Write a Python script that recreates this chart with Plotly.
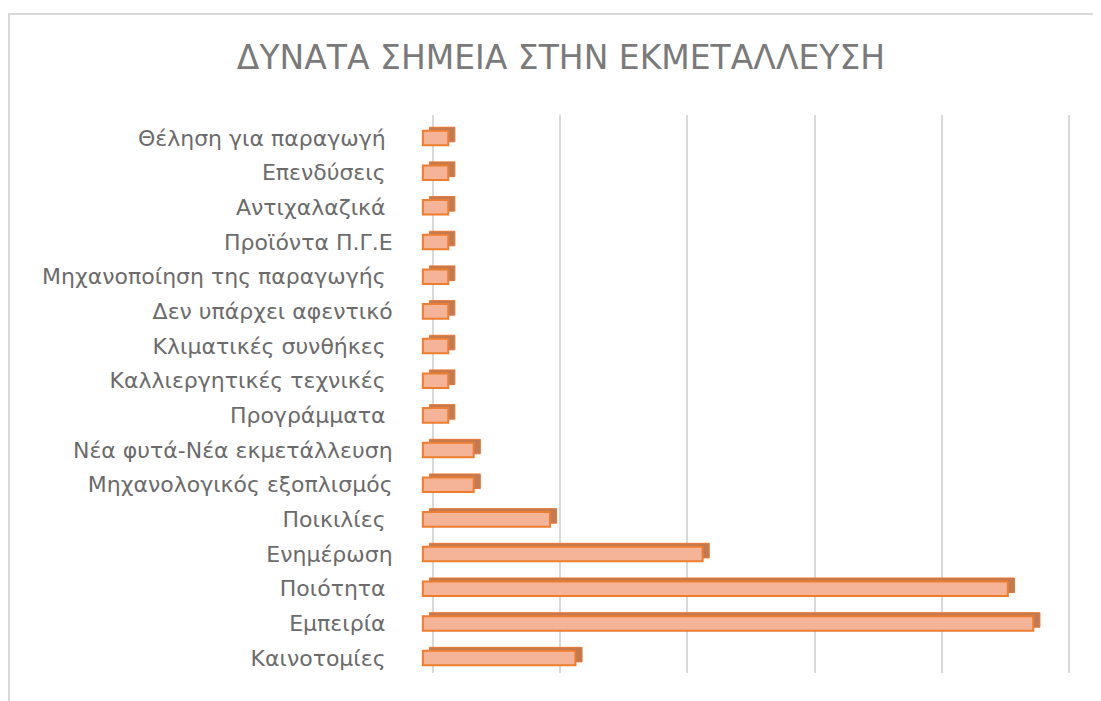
import plotly.graph_objects as go

categories = [
    "Θέληση για παραγωγή ",
    "Επενδύσεις ",
    "Αντιχαλαζικά ",
    "Προϊόντα Π.Γ.Ε",
    "Μηχανοποίηση της παραγωγής ",
    "Δεν υπάρχει αφεντικό",
    "Κλιματικές συνθήκες ",
    "Καλλιεργητικές τεχνικές ",
    "Προγράμματα ",
    "Νέα φυτά-Νέα εκμετάλλευση",
    "Μηχανολογικός εξοπλισμός",
    "Ποικιλίες ",
    "Ενημέρωση",
    "Ποιότητα ",
    "Εμπειρία ",
    "Καινοτομίες ",
]
values = [1, 1, 1, 1, 1, 1, 1, 1, 1, 2, 2, 5, 11, 23, 24, 6]
title_text = "ΔΥΝΑΤΑ ΣΗΜΕΙΑ ΣΤΗΝ ΕΚΜΕΤΑΛΛΕΥΣΗ"
grid_ticks = [0, 5, 10, 15, 20, 25]

BAR_W = 0.42
n = len(categories)

fig = go.Figure()

# back (depth) part giving the 3D look
fig.add_trace(go.Bar(
    y=categories, x=values, base=[-0.14] * n, orientation="h",
    width=BAR_W, offset=-BAR_W / 2 - 0.1,
    marker=dict(color="#c27a52", line=dict(color="#e9772f", width=1)),
    hoverinfo="skip", showlegend=False,
))
# front face
fig.add_trace(go.Bar(
    y=categories, x=values, base=[-0.4] * n, orientation="h",
    width=BAR_W, offset=-BAR_W / 2,
    marker=dict(color="#f5b497", line=dict(color="#ed7d31", width=2)),
    showlegend=False,
))

OFF = 8  # page body margin
W, H = 1093, 693
L, R, T, B = 418 - OFF, 1075 - OFF, 115 - OFF, 673 - OFF
pw, ph = R - L, B - T

fig.update_layout(
    width=W, height=H,
    margin=dict(l=L, r=W - R, t=T, b=H - B),
    paper_bgcolor="white", plot_bgcolor="white",
    barmode="overlay",
    title=dict(
        text=title_text, x=(561 - OFF) / W, xanchor="center", xref="container",
        y=1 - (57 - OFF) / H, yanchor="middle", yref="container",
        font=dict(family="DejaVu Sans", size=33, color="#7a7a7a"),
    ),
    xaxis=dict(
        range=[-0.59, 25.24], tickvals=grid_ticks, showticklabels=False,
        showgrid=True, gridcolor="#d9d9d9", gridwidth=2,
        zeroline=True, zerolinecolor="#d9d9d9", zerolinewidth=2,
        showline=False, fixedrange=True,
    ),
    yaxis=dict(
        type="category", categoryorder="array", categoryarray=categories,
        range=[15.43, -0.663], showgrid=False, zeroline=False, showline=False,
        ticks="outside", ticklen=20, tickcolor="rgba(0,0,0,0)",
        tickfont=dict(family="DejaVu Sans", size=22, color="#6b6b6b"),
    ),
    shapes=[dict(
        type="rect", xref="paper", yref="paper",
        x0=(9 - OFF - L) / pw, x1=1.2, y0=-0.2, y1=1 + (T - (14 - OFF)) / ph,
        line=dict(color="#d9d9d9", width=2), fillcolor="rgba(0,0,0,0)",
        layer="below",
    )],
)

fig.write_html("out.html")
